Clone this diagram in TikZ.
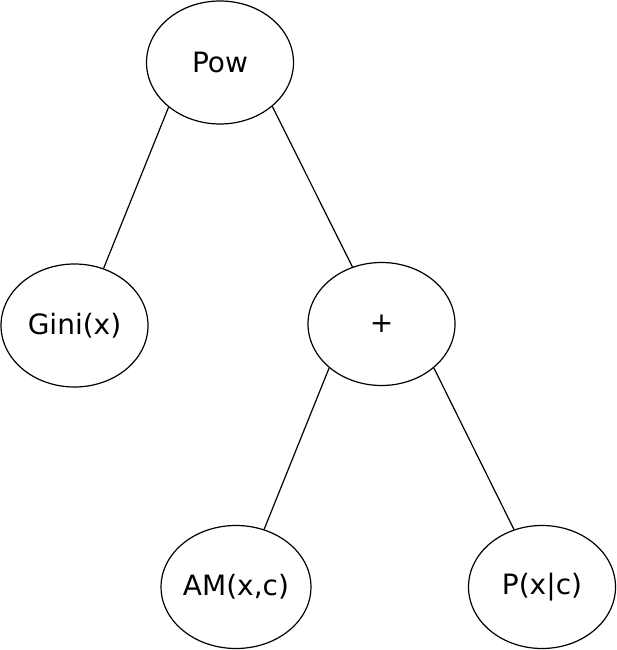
\documentclass[tikz,border=0pt]{standalone}
\usepackage{fontspec}
\setmainfont{DejaVu Sans}
\usetikzlibrary{shapes.geometric}
\tikzstyle{treenode} = [draw, ellipse, line width=1.2pt, minimum width=147pt,
    minimum height=123pt, inner sep=0pt, font=\fontsize{28}{33}\selectfont]
\tikzstyle{branch} = [line width=1.2pt]

\begin{document}
\begin{tikzpicture}[x=1pt, y=1pt]

    \useasboundingbox (0, 0) rectangle (616, 650);

    \node[treenode] (pow) at (220, 587.5) {Pow};
    \node[treenode] (gini) at (74.5, 324.5) {Gini(x)};
    \node[treenode] (plus) at (381.5, 326) {+};
    \node[treenode] (am) at (236, 63) {AM(x,c)};
    \node[treenode] (pxc) at (542, 63) {P(x|c)};

    \draw[branch] (pow.221) -- (gini.63);
    \draw[branch] (pow.320) -- (plus.117);
    \draw[branch] (plus.220) -- (am.64);
    \draw[branch] (plus.320) -- (pxc.116);

\end{tikzpicture}
\end{document}
